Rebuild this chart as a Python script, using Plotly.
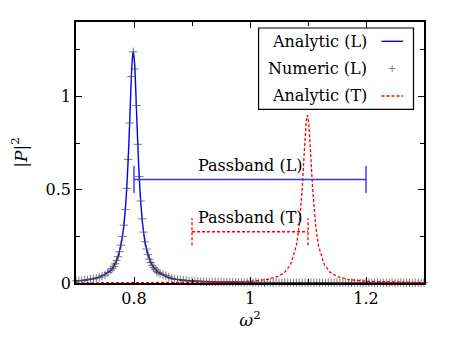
import plotly.graph_objects as go

# ---------------- data ----------------
# Analytic (L)
anL_x = [0.700, 0.720, 0.740, 0.760, 0.770, 0.780, 0.785, 0.790, 0.793, 0.795, 0.797, 0.7988,
         0.801, 0.803, 0.805, 0.808, 0.812, 0.816, 0.820, 0.830, 0.840, 0.860, 0.880, 0.900,
         0.950, 1.000, 1.100, 1.200, 1.300]
anL_y = [0.011, 0.017, 0.031, 0.069, 0.120, 0.249, 0.394, 0.663, 0.900, 1.069, 1.199, 1.243,
         1.178, 1.036, 0.866, 0.635, 0.418, 0.286, 0.204, 0.103, 0.062, 0.029, 0.016, 0.011,
         0.005, 0.003, 0.001, 0.0007, 0.0004]

# Numeric (L)
num_x = [0.700, 0.705, 0.710, 0.715, 0.720, 0.725, 0.730, 0.735, 0.740, 0.745, 0.750, 0.755,
         0.760, 0.7625, 0.765, 0.7675, 0.770, 0.7725, 0.775, 0.7775, 0.780, 0.7825, 0.785, 0.7875,
         0.790, 0.7925, 0.7955, 0.7988,
         0.8015, 0.804, 0.8065, 0.809, 0.8115, 0.814, 0.8165, 0.819, 0.8215, 0.824, 0.8265, 0.829,
         0.8315, 0.834, 0.8365, 0.839, 0.8415,
         0.845, 0.850, 0.855, 0.860, 0.865, 0.870, 0.875, 0.880, 0.885, 0.890, 0.895, 0.900,
         0.905, 0.910, 0.915, 0.920, 0.925, 0.930, 0.935, 0.940, 0.945, 0.950,
         0.955, 0.960, 0.965, 0.970, 0.975, 0.980, 0.985, 0.990, 0.995, 1.000,
         1.005, 1.010, 1.015, 1.020, 1.025, 1.030, 1.035, 1.040, 1.045, 1.050,
         1.055, 1.060, 1.065, 1.070, 1.075, 1.080, 1.085, 1.090, 1.095, 1.100,
         1.105, 1.110, 1.115, 1.120, 1.125, 1.130, 1.135, 1.140, 1.145, 1.150,
         1.155, 1.160, 1.165, 1.170, 1.175, 1.180, 1.185, 1.190, 1.195, 1.200,
         1.205, 1.210, 1.215, 1.220, 1.225, 1.230, 1.235, 1.240, 1.245, 1.250,
         1.255, 1.260, 1.265, 1.270, 1.275, 1.280, 1.285, 1.290, 1.295, 1.300]
num_y = [0.012, 0.013, 0.012, 0.016, 0.018, 0.021, 0.022, 0.027, 0.030, 0.038, 0.043, 0.056,
         0.069, 0.078, 0.089, 0.103, 0.120, 0.141, 0.168, 0.203, 0.249, 0.310, 0.394, 0.508,
         0.663, 0.858, 1.107, 1.240,
         1.148, 0.952, 0.744, 0.571, 0.440, 0.344, 0.273, 0.221, 0.182, 0.152, 0.128, 0.110,
         0.095, 0.083, 0.073, 0.064, 0.057,
         0.052, 0.046, 0.040, 0.032, 0.025, 0.020, 0.019, 0.018, 0.016, 0.014, 0.010, 0.012,
         0.009, 0.010, 0.007, 0.008, 0.006, 0.007, 0.005, 0.006, 0.004, 0.005,
         0.005, 0.004, 0.005, 0.003, 0.004, 0.005, 0.003, 0.002, 0.004, 0.003,
         0.002, 0.004, 0.002, 0.003, 0.001, 0.003, 0.002, 0.002, 0.003, 0.001,
         0.002, 0.003, 0.001, 0.002, 0.002, 0.001, 0.003, 0.001, 0.002, 0.001,
         0.002, 0.001, 0.002, 0.001, 0.003, 0.001, 0.001, 0.002, 0.001, 0.002,
         0.001, 0.001, 0.002, 0.000, 0.001, 0.002, 0.001, 0.001, 0.000, 0.002,
         0.001, 0.001, 0.000, 0.002, 0.001, 0.000, 0.001, 0.001, 0.002, 0.000,
         0.001, 0.001, 0.000, 0.001, 0.001, 0.000, 0.001, 0.001, 0.000, 0.001]

# Analytic (T)
anT_x = [0.700, 0.800, 0.900, 0.950, 1.000, 1.030, 1.050, 1.060, 1.070, 1.080, 1.085, 1.090,
         1.094, 1.097, 1.099, 1.101, 1.104, 1.108, 1.113, 1.118, 1.128, 1.138, 1.150, 1.170,
         1.200, 1.250, 1.300]
anT_y = [0.0006, 0.001, 0.0024, 0.0042, 0.0095, 0.019, 0.037, 0.058, 0.099, 0.201, 0.312, 0.506,
         0.726, 0.867, 0.900, 0.867, 0.726, 0.506, 0.312, 0.201, 0.099, 0.058, 0.035, 0.018,
         0.009, 0.004, 0.0023]

# Passbands
passL = [0.8, 1.2]
passL_level = 0.555
passT = [0.9, 1.1]
passT_level = 0.275
cap = 0.072

FONT = "'DejaVu Serif', serif"
FS = 16

fig = go.Figure()
fig.add_trace(go.Scatter(x=anL_x, y=anL_y, mode="lines", line=dict(color="#0000ff", width=1.4, shape="spline", smoothing=0.6),
                         showlegend=False))
fig.add_trace(go.Scatter(x=num_x, y=num_y, mode="markers", cliponaxis=False,
                         marker=dict(symbol="cross-thin-open", size=6, color="rgba(70,70,70,0.7)",
                                     line=dict(width=1, color="rgba(70,70,70,0.7)")),
                         showlegend=False))
fig.add_trace(go.Scatter(x=anT_x, y=anT_y, mode="lines", line=dict(color="#ff0000", width=1.3, dash="3px,2px"),
                         showlegend=False))

def band(xs, lvl):
    lo, hi = xs
    return ([lo, lo, None, lo, hi, None, hi, hi],
            [lvl - cap, lvl + cap, None, lvl, lvl, None, lvl - cap, lvl + cap])

bx, by = band(passL, passL_level)
fig.add_trace(go.Scatter(x=bx, y=by, mode="lines", line=dict(color="#3333ff", width=1.4), showlegend=False))
tx, ty = band(passT, passT_level)
fig.add_trace(go.Scatter(x=tx, y=ty, mode="lines", line=dict(color="#ff0000", width=1.3, dash="3px,2px"),
                         showlegend=False))

annots = [
    dict(x=(passL[0] + passL[1]) / 2, y=passL_level + 0.075, xref="x", yref="y", text="Passband (L)",
         showarrow=False, font=dict(family=FONT, size=FS, color="black")),
    dict(x=(passT[0] + passT[1]) / 2, y=passT_level + 0.078, xref="x", yref="y", text="Passband (T)",
         showarrow=False, font=dict(family=FONT, size=FS, color="black")),
]
# custom legend (gnuplot style: text right, sample left)
leg_rows = [0.926, 0.8226, 0.7165]
leg_text = ["Analytic (L)", "Numeric (L)", "Analytic (T)"]
for yy, t in zip(leg_rows, leg_text):
    annots.append(dict(x=0.841, y=yy, xref="paper", yref="paper", text=t, xanchor="right", yanchor="middle",
                       showarrow=False, font=dict(family=FONT, size=FS, color="black")))
annots.append(dict(x=0.9087, y=leg_rows[1], xref="paper", yref="paper", text="+", xanchor="center",
                   yanchor="middle", showarrow=False, font=dict(family="DejaVu Sans", size=10, color="#777777")))

shapes = [
    dict(type="rect", xref="paper", yref="paper", x0=0.5246, x1=0.9698, y0=0.6655, y1=0.977,
         line=dict(color="black", width=1.2), fillcolor="white", layer="above"),
    dict(type="line", xref="paper", yref="paper", x0=0.8777, x1=0.940, y0=leg_rows[0], y1=leg_rows[0],
         line=dict(color="#0000ff", width=1.4)),
    dict(type="line", xref="paper", yref="paper", x0=0.8777, x1=0.940, y0=leg_rows[2], y1=leg_rows[2],
         line=dict(color="#ff0000", width=1.3, dash="3px,2px")),
]

axis_common = dict(showline=True, linecolor="black", linewidth=1.6, mirror="allticks", ticks="inside",
                   ticklen=6, tickwidth=1, tickcolor="black", showgrid=False, zeroline=False,
                   tickfont=dict(family=FONT, size=FS, color="black"))
fig.update_xaxes(range=[0.7, 1.3], tick0=0.8, dtick=0.2,
                 minor=dict(ticks="inside", dtick=0.1, tick0=0.7, ticklen=4, tickcolor="black"),
                 title=dict(text="<i>ω</i><sup>2</sup>", font=dict(family=FONT, size=FS + 1, color="black"), standoff=6),
                 **axis_common)
fig.update_yaxes(range=[0, 1.4], tick0=0, dtick=0.5,
                 minor=dict(ticks="inside", dtick=0.25, ticklen=4, tickcolor="black"),
                 title=dict(text="|<i>P</i>|<sup>2</sup>", font=dict(family=FONT, size=FS + 1, color="black"), standoff=14),
                 **axis_common)
fig.update_layout(width=449, height=335, margin=dict(l=62, r=33, t=14, b=60),
                  paper_bgcolor="white", plot_bgcolor="white",
                  font=dict(family=FONT),
                  annotations=annots, shapes=shapes, showlegend=False)
fig.write_html("out.html")
